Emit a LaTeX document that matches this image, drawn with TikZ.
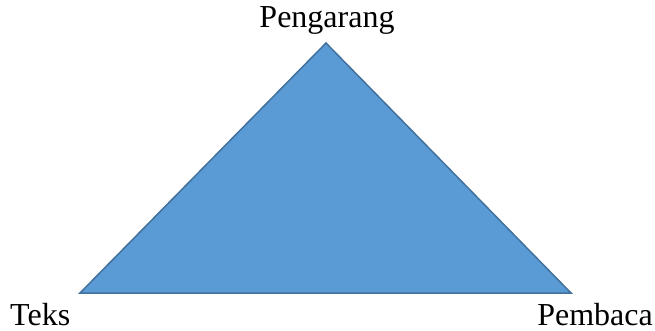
\documentclass[tikz,border=0pt]{standalone}
\usepackage{fontspec}
\setmainfont{Liberation Serif}
\definecolor{trifill}{HTML}{5B9BD5}
\definecolor{triedge}{HTML}{41719C}
\tikzset{
	corner/.style={inner sep=0pt,font=\fontsize{32}{38}\selectfont},
	triangle/.style={fill=trifill,draw=triedge,line width=1.5pt,line join=miter}
}
\begin{document}
\begin{tikzpicture}[x=1pt,y=-1pt]
		\useasboundingbox (0,0) rectangle (655,331);
		
		\coordinate (top) at (326,43);
		\coordinate (left) at (80,293);
		\coordinate (right) at (571,293);
		\draw[triangle] (top) -- (left) -- (right) -- cycle;
		
		\node[corner,anchor=base] (pengarang) at (327,28) {Pengarang};
		\node[corner,anchor=base west] (teks) at (10,325) {Teks};
		\node[corner,anchor=base east] (pembaca) at (653,325) {Pembaca};
	\end{tikzpicture}
\end{document}
